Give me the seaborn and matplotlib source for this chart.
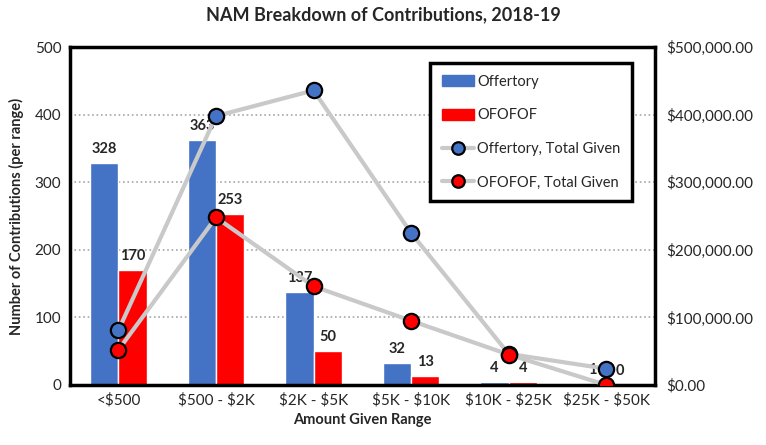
import pandas as pd
import seaborn as sns
import matplotlib.pyplot as plt
import numpy as np
from matplotlib.ticker import FuncFormatter

# Data
ranges = ['<$500', '$500 - $2K', '$2K - $5K', '$5K - $10K', '$10K - $25K', '$25K - $50K']
offertory_count = [328, 363, 137, 32, 4, 1]
ofofof_count = [170, 253, 50, 13, 4, 0]
offertory_total = [81000, 398000, 436000, 225000, 46000, 24000]
ofofof_total = [52000, 248000, 146000, 95000, 45000, 0]

blue = '#4472C4'
red = '#FF0000'
grey = '#C9C9C9'

sns.set_style('white')
plt.rcParams['font.family'] = ['Lato', 'DejaVu Sans']
plt.rcParams['text.parse_math'] = False

df = pd.DataFrame({
    'range': ranges * 2,
    'count': offertory_count + ofofof_count,
    'series': ['Offertory'] * len(ranges) + ['OFOFOF'] * len(ranges),
})

fig, ax = plt.subplots(figsize=(7.66, 4.45), dpi=100)
fig.subplots_adjust(left=0.091, right=0.855, bottom=0.135, top=0.894)

sns.barplot(data=df, x='range', y='count', hue='series', order=ranges,
            palette={'Offertory': blue, 'OFOFOF': red}, width=0.58,
            saturation=1, ax=ax, legend=False, zorder=2)
for cont in ax.containers:
    ax.bar_label(cont, fontweight='bold', fontsize=10.5, padding=5)

ax.set_ylim(0, 500)
ax.set_xlim(-0.5, len(ranges) - 0.5)
ax.set_yticks(range(0, 501, 100))
ax.yaxis.grid(True, linestyle=':', color='#A6A6A6', linewidth=1.2, zorder=0)
ax.set_axisbelow(True)
ax.set_xlabel('Amount Given Range', fontweight='bold', fontsize=10.5)
ax.set_ylabel('Number of Contributions (per range)', fontweight='bold', fontsize=10.5, labelpad=8)
ax.tick_params(axis='both', length=0, labelsize=11, pad=6)
for sp in ax.spines.values():
    sp.set_linewidth(2.5)
    sp.set_color('black')

ax2 = ax.twinx()
pos = np.arange(len(ranges))
line_df = pd.DataFrame({
    'pos': np.concatenate([pos, pos]),
    'total': offertory_total + ofofof_total,
    'series': ['Offertory, Total Given'] * len(ranges) + ['OFOFOF, Total Given'] * len(ranges),
})
for name, fc in [('Offertory, Total Given', blue), ('OFOFOF, Total Given', red)]:
    sub = line_df[line_df['series'] == name]
    sns.lineplot(data=sub, x='pos', y='total', ax=ax2, color=grey, linewidth=3,
                 marker='o', markersize=11, markerfacecolor=fc,
                 markeredgecolor='black', markeredgewidth=1.6, legend=False)
ax2.set_ylim(0, 500000)
ax2.set_yticks(range(0, 500001, 100000))
ax2.yaxis.set_major_formatter(FuncFormatter(lambda v, p: f'${v:,.2f}'))
ax2.tick_params(axis='y', length=0, labelsize=11, pad=8)
ax2.set_ylabel('')
ax2.set_xlabel('')
for sp in ax2.spines.values():
    sp.set_visible(False)

handles = [
    plt.Rectangle((0, 0), 1, 1, color=blue),
    plt.Rectangle((0, 0), 1, 1, color=red),
    plt.Line2D([], [], color=grey, linewidth=3, marker='o', markersize=9,
               markerfacecolor=blue, markeredgecolor='black', markeredgewidth=1.6),
    plt.Line2D([], [], color=grey, linewidth=3, marker='o', markersize=9,
               markerfacecolor=red, markeredgecolor='black', markeredgewidth=1.6),
]
labels = ['Offertory', 'OFOFOF', 'Offertory, Total Given', 'OFOFOF, Total Given']
leg = ax2.legend(handles, labels, loc='upper right', bbox_to_anchor=(0.973, 0.975),
                 fontsize=10.5, labelspacing=1.35, handlelength=2.2, handleheight=0.8,
                 handletextpad=0.2, borderpad=0.8, fancybox=False, framealpha=1)
leg.get_frame().set_edgecolor('black')
leg.get_frame().set_linewidth(2.5)

fig.suptitle('NAM Breakdown of Contributions, 2018-19', fontweight='bold', fontsize=13, y=0.985)

fig.savefig('out.png', dpi=100)
